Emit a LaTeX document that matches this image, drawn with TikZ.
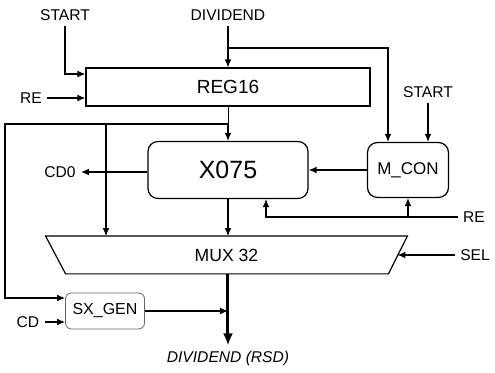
\documentclass[tikz,border=0pt]{standalone}
\usepackage{fontspec}
\setmainfont{Liberation Sans}
\usetikzlibrary{arrows.meta,calc}
\tikzset{
  unit block/.style={
    rectangle, draw=black, line width=0.6pt, inner sep=0pt, font=\fontsize{9.5}{11}\selectfont
  },
  round block/.style={
    unit block, rounded corners=5pt
  },
  sig label/.style={inner sep=2.5pt, font=\fontsize{7.8}{9}\selectfont},
  sig arrow/.style={-{Latex[length=4pt,width=3.4pt]}, line width=0.6pt},
  bus arrow/.style={-{Latex[length=6pt,width=5pt]}, line width=1.5pt}
}

\begin{document}
\begin{tikzpicture}[x=0.5pt, y=-0.5pt]
    \useasboundingbox (0,0) rectangle (495,373);
    % blocks
    \node[unit block, minimum width=142pt, minimum height=19pt] (reg) at (228,87) {REG16};
    \node[round block, minimum width=80pt, minimum height=28.5pt,
      font=\fontsize{12.5}{14}\selectfont] (x075) at (228,170) {X075};
    \node[round block, minimum width=40.5pt, minimum height=27.5pt,
      font=\fontsize{8.5}{10}\selectfont] (mcon) at (408,170) {M\_CON};
    \node[minimum width=180.5pt, minimum height=18.5pt, inner sep=0pt,
      font=\fontsize{8.8}{10}\selectfont] (mux) at (226.5,255) {MUX 32};
    \draw[line width=0.6pt] (mux.north west) -- (mux.north east)
      -- ($(mux.south east)+(-19,0)$) -- ($(mux.south west)+(20,0)$) -- cycle;
    \node[round block, draw=black!60, line width=0.4pt, rounded corners=3pt,
      minimum width=39.5pt, minimum height=18pt,
      font=\fontsize{8}{9.5}\selectfont] (sxgen) at (105,311) {SX\_GEN};
    % signal names
    \node[sig label] (start1) at (65,15) {START};
    \node[sig label] (div) at (228,15) {DIVIDEND};
    \node[sig label] (re1) at (31,98) {RE};
    \node[sig label] (start2) at (428,92) {START};
    \node[sig label] (cd0) at (60,172) {CD0};
    \node[sig label] (re2) at (474,217) {RE};
    \node[sig label] (sel) at (475,255) {SEL};
    \node[sig label] (cd) at (28,322) {CD};
    \node[sig label, font=\fontsize{7.8}{9}\selectfont\itshape] (out) at (228,358) {DIVIDEND (RSD)};
    \coordinate (divtap) at (228,48);
    \coordinate (fork) at (228,124);
    \coordinate (tap) at (106,124);
    \coordinate (leftbend) at (5,124);
    % connections
    \draw[sig arrow] (start1.south) |- ($(reg.west)+(0,-13)$);
    \draw[sig arrow] (re1) -- (re1 -| reg.west);
    \draw[sig arrow] (div.south) -- (reg.north);
    \draw[sig arrow] (divtap) -| ($(mcon.north)+(-20,0)$);
    \draw[sig arrow] (start2.south) -- ($(mcon.north)+(20,0)$);
    \draw (reg.south) -- (fork);
    \draw[sig arrow] (fork) -- (x075.north);
    \draw[sig arrow] (fork) -- (leftbend) |- ($(sxgen.west)+(0,-13)$);
    \draw[sig arrow] (tap) -- (tap |- mux.north);
    \draw[sig arrow] (x075.west |- cd0) -- (cd0.east);
    \draw[sig arrow] (mcon.west) -- (x075.east);
    \draw[sig arrow] (re2.west) -| ($(x075.south)+(38,0)$);
    \draw[sig arrow] (re2.west -| mcon.south) -- (mcon.south);
    \draw[sig arrow] (x075.south) -- (x075.south |- mux.north);
    \draw[sig arrow] (sel.west) -- ($(mux.east)+(-10,0)$);
    \draw[bus arrow] (x075.south |- mux.south) -- (out.north);
    \draw[sig arrow] (sxgen.east) -- (sxgen.east -| out.north);
    \draw[sig arrow] (cd) -- (cd -| sxgen.west);
  \end{tikzpicture}
\end{document}
